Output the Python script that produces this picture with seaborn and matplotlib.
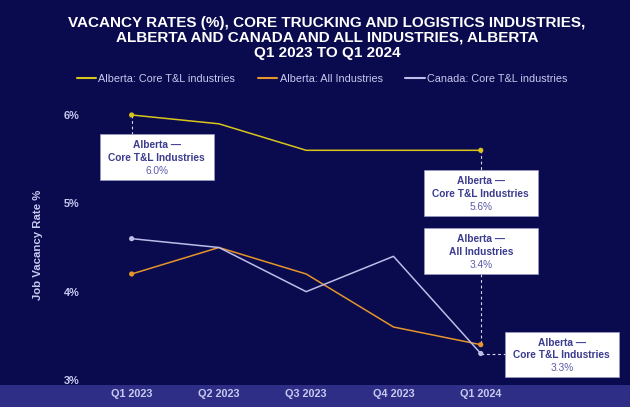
import numpy as np
import pandas as pd
import matplotlib
matplotlib.use("Agg")
import matplotlib.pyplot as plt
from matplotlib.patches import Rectangle
import seaborn as sns

# =============================================================================
# data
# =============================================================================
quarters = ['Q1 2023', 'Q2 2023', 'Q3 2023', 'Q4 2023', 'Q1 2024']
ab_core = [6.0, 5.9, 5.6, 5.6, 5.6]
ab_all = [4.2, 4.5, 4.2, 3.6, 3.4]
ca_core = [4.6, 4.5, 4.0, 4.4, 3.3]
series = ['Alberta: Core T&L industries', 'Alberta: All Industries', 'Canada: Core T&L industries']
yticks = [3, 4, 5, 6]

bg = '#0a0a4e'
band = '#2e2e86'
txt = '#c8c9f0'
box_txt = '#3b3b8f'
palette = {series[0]: '#d8c51c', series[1]: '#e5952a', series[2]: '#bcbde8'}

df = pd.DataFrame({
    'x': list(range(len(quarters))) * 3,
    'rate': ab_core + ab_all + ca_core,
    'series': [s for s in series for _ in quarters],
})

sns.set_style('white')
plt.rcParams['font.family'] = ['Liberation Sans', 'DejaVu Sans']

fig = plt.figure(figsize=(6.3, 4.07), dpi=100, facecolor=bg)
fig.patches.append(Rectangle((0, 0), 1, 22 / 407, transform=fig.transFigure,
                             facecolor=band, edgecolor='none', zorder=-5))
ax = fig.add_axes([88 / 630, 22 / 407, 542 / 630, 285 / 407])
ax.set_facecolor('none')

sns.lineplot(data=df, x='x', y='rate', hue='series', palette=palette, lw=1.1,
             ax=ax, legend=False)
ends = df[df['x'].isin([0, len(quarters) - 1])]
sns.scatterplot(data=ends, x='x', y='rate', hue='series', palette=palette,
                s=14, edgecolor='none', ax=ax, legend=False, zorder=5)

ax.set_xlim(-0.5, 5.71)
ax.set_ylim(3 - 5 / 88.5, 6 + 15 / 88.5)
ax.set_xticks(range(len(quarters)))
ax.set_xticklabels(quarters, fontsize=7.8, fontweight='bold', color=txt)
ax.set_yticks(yticks)
ax.set_yticklabels([f'{t}%' for t in yticks], fontsize=7.8, fontweight='bold', color=txt)
ax.tick_params(axis='x', length=0, pad=3)
ax.tick_params(axis='y', length=0, pad=6)
ax.set_xlabel('')
ax.set_ylabel('Job Vacancy Rate %', fontsize=8.2, fontweight='bold', color=txt)
ax.yaxis.set_label_coords(-0.083, 0.49)
sns.despine(ax=ax, left=True, bottom=True)

# annotation boxes (center x, center y, lines)
px, py = 87.25, 88.5
bw, bh = 114 / px, 46 / py
last = len(quarters) - 1
boxes = [
    (25 / px, ab_core[0] - 42 / py, 'Alberta —\nCore T&L Industries', ab_core[0]),
    (last, ab_core[-1] - 43 / py, 'Alberta —\nCore T&L Industries', ab_core[-1]),
    (last, ab_core[-1] - 101 / py, 'Alberta —\nAll Industries', ab_all[-1]),
    (last + 81 / px, ca_core[-1] - 1 / py, 'Alberta —\nCore T&L Industries', ca_core[-1]),
]
dash = dict(color='#d8d8f0', lw=0.8, ls=(0, (2.5, 2.5)), zorder=1)
ax.plot([0, 0], [ab_core[0], boxes[0][1] + bh / 2], **dash)
ax.plot([last, last], [ab_core[-1], boxes[1][1] + bh / 2], **dash)
ax.plot([last, last], [boxes[2][1] - bh / 2, ab_all[-1]], **dash)
ax.plot([last, boxes[3][0] - bw / 2], [ca_core[-1], ca_core[-1]], **dash)

for cx, cy, head, val in boxes:
    ax.add_patch(Rectangle((cx - bw / 2, cy - bh / 2), bw, bh, facecolor='white',
                           edgecolor='#9a9ac8', lw=0.5, zorder=6, clip_on=False))
    ax.text(cx, cy + 5.5 / py, head, ha='center', va='center', fontsize=7.3,
            fontweight='bold', color=box_txt, linespacing=1.35, zorder=7)
    ax.text(cx, cy - 14 / py, f'{val:.1f}%', ha='center', va='center',
            fontsize=7.3, color='#5a5aa8', zorder=7)

fig.text(0.519, 1 - 38 / 407,
         'VACANCY RATES (%), CORE TRUCKING AND LOGISTICS INDUSTRIES,\n'
         'ALBERTA AND CANADA AND ALL INDUSTRIES, ALBERTA\nQ1 2023 TO Q1 2024',
         ha='center', va='center', fontsize=11, fontweight='bold',
         color='white', linespacing=1.08)

handles = [plt.Line2D([], [], color=palette[s], lw=1.5) for s in series]
fig.legend(handles, series, loc='center', bbox_to_anchor=(0.511, 1 - 79 / 407),
           ncol=3, frameon=False, fontsize=7.8, labelcolor=txt,
           handlelength=1.8, handletextpad=0.2, columnspacing=2.1)

fig.savefig('out.png', dpi=100, facecolor=bg)
